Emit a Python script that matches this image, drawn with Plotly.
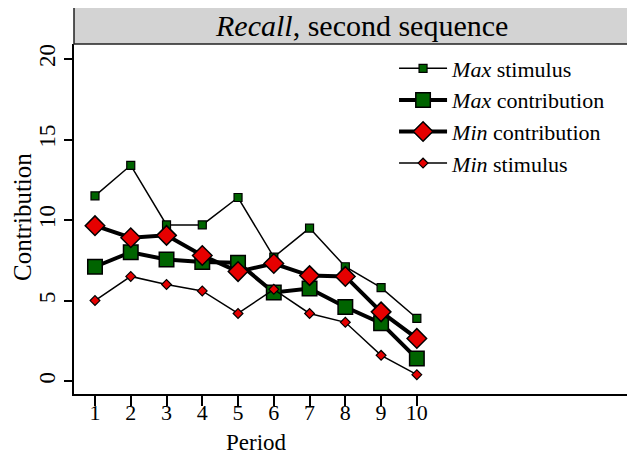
import plotly.graph_objects as go

periods = [1, 2, 3, 4, 5, 6, 7, 8, 9, 10]
max_stimulus = [11.5, 13.4, 9.7, 9.7, 11.4, 7.7, 9.5, 7.1, 5.8, 3.9]
max_contribution = [7.1, 8.0, 7.55, 7.4, 7.35, 5.5, 5.75, 4.6, 3.6, 1.4]
min_contribution = [9.65, 8.9, 9.05, 7.8, 6.8, 7.3, 6.55, 6.5, 4.3, 2.65]
min_stimulus = [5.0, 6.5, 6.0, 5.6, 4.2, 5.7, 4.2, 3.65, 1.6, 0.4]
y_ticks = [0, 5, 10, 15, 20]

GREEN = "#006400"
RED = "#e60000"
FONT = "Liberation Serif"

fig = go.Figure()
fig.add_trace(go.Scatter(x=periods, y=max_stimulus, mode="lines+markers",
    name="<i>Max</i> stimulus",
    line=dict(color="black", width=1.5),
    marker=dict(symbol="square", size=8, color=GREEN, line=dict(color="black", width=1.2))))
fig.add_trace(go.Scatter(x=periods, y=max_contribution, mode="lines+markers",
    name="<i>Max</i> contribution",
    line=dict(color="black", width=4),
    marker=dict(symbol="square", size=14.5, color=GREEN, line=dict(color="black", width=1.5))))
fig.add_trace(go.Scatter(x=periods, y=min_contribution, mode="lines+markers",
    name="<i>Min</i> contribution",
    line=dict(color="black", width=4),
    marker=dict(symbol="diamond", size=15, color=RED, line=dict(color="black", width=1.5))))
fig.add_trace(go.Scatter(x=periods, y=min_stimulus, mode="lines+markers",
    name="<i>Min</i> stimulus",
    line=dict(color="black", width=1.5),
    marker=dict(symbol="diamond", size=7.5, color=RED, line=dict(color="black", width=1.2))))

fig.update_layout(
    width=627, height=446,
    margin=dict(l=66, r=0, t=36, b=60),
    paper_bgcolor="white", plot_bgcolor="white",
    font=dict(family=FONT, size=22, color="black"),
    showlegend=True,
    legend=dict(x=0.5705, y=0.99, xanchor="left", yanchor="top",
                bgcolor="rgba(0,0,0,0)", font=dict(size=22, family=FONT),
                itemwidth=48, tracegroupgap=0),
)
fig.update_xaxes(range=[0.413, 16.1], tickmode="array", tickvals=periods,
    ticks="outside", ticklen=10, tickwidth=1.5, tickcolor="black",
    showline=True, linecolor="black", linewidth=2, mirror=False,
    showgrid=False, zeroline=False, ticklabelstandoff=-12,
    tickfont=dict(size=22))
fig.update_yaxes(range=[-0.8, 20.93], tickmode="array", tickvals=y_ticks,
    ticks="outside", ticklen=8, tickwidth=1.5, tickcolor="black",
    showline=True, linecolor="black", linewidth=2, mirror=False,
    showgrid=False, zeroline=False, tickangle=-90,
    tickfont=dict(size=23))

# axis titles
fig.add_annotation(xref="paper", yref="paper", x=(256 - 74) / 561, y=-(442 - 394) / 350,
    text="Period", showarrow=False, font=dict(size=23, family=FONT),
    xanchor="center", yanchor="middle")
fig.add_annotation(xref="paper", yref="paper", x=(22 - 74) / 561, y=(394 - 217) / 350,
    text="Contribution", showarrow=False, textangle=-90, font=dict(size=25, family=FONT),
    xanchor="center", yanchor="middle")

fig.add_shape(type="rect", xref="paper", yref="paper",
    x0=0, x1=1.03, y0=1.0, y1=1.0 + 42/350,
    fillcolor="#d3d3d3", line=dict(color="#222222", width=1.5), layer="above")
fig.add_annotation(xref="paper", yref="paper", x=(361 - 74) / 561, y=(394 - 25) / 350,
    text="<i>Recall</i>, second sequence", showarrow=False,
    font=dict(size=30, family=FONT, color="black"), xanchor="center", yanchor="middle")

fig.write_html("out.html")
